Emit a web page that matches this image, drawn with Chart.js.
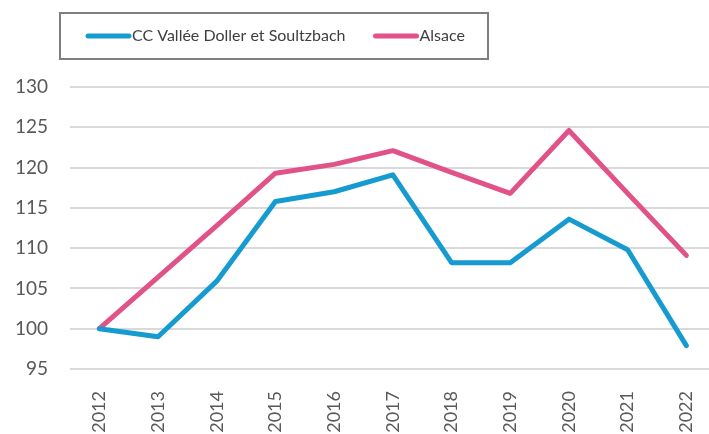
<!DOCTYPE html>
<html>
<head>
<meta charset="utf-8">
<script src="https://cdn.jsdelivr.net/npm/chart.js@4.4.0/dist/chart.umd.min.js"></script>
<style>
  html, body { margin: 0; padding: 0; background: #fff; overflow: hidden; }
  canvas { display: block; }
</style>
</head>
<body>
<canvas id="myChart" width="722" height="434"></canvas>
<script>
const years = ['2012', '2013', '2014', '2015', '2016', '2017', '2018', '2019', '2020', '2021', '2022'];
const valleeValues = [100, 99.0, 105.9, 115.8, 117.0, 119.1, 108.2, 108.2, 113.6, 109.8, 97.9];
const alsaceValues = [100, 106.4, 112.8, 119.3, 120.4, 122.1, 119.4, 116.8, 124.6, 116.8, 109.1];
const yTicks = [95, 100, 105, 110, 115, 120, 125, 130];

const FONT = 'Lato, "Open Sans", sans-serif';

// legend in a framed box, like the spreadsheet one
const boxLegend = {
    id: 'boxLegend',
    afterDraw(chart) {
        const c = chart.ctx;
        c.save();
        c.strokeStyle = '#7f7f7f';
        c.lineWidth = 2;
        c.strokeRect(60, 13, 428, 46);
        c.font = '16px ' + FONT;
        c.textBaseline = 'middle';
        c.fillStyle = '#404040';
        let x = 88;
        const y = 36;
        chart.data.datasets.forEach(ds => {
            c.strokeStyle = ds.borderColor;
            c.lineWidth = 5;
            c.lineCap = 'round';
            c.beginPath();
            c.moveTo(x, y);
            c.lineTo(x + 41, y);
            c.stroke();
            c.fillText(ds.label, x + 44, y);
            x += 44 + c.measureText(ds.label).width + 30;
        });
        c.restore();
    }
};

const ctx = document.getElementById('myChart').getContext('2d');
const myChart = new Chart(ctx, {
    type: 'line',
    data: {
        labels: years,
        datasets: [{
            label: 'CC Vallée Doller et Soultzbach',
            data: valleeValues,
            borderColor: 'rgb(21, 155, 208)',
            borderWidth: 5,
            pointRadius: 0,
            tension: 0,
            borderCapStyle: 'round',
            borderJoinStyle: 'round'
        }, {
            label: 'Alsace',
            data: alsaceValues,
            borderColor: 'rgb(225, 83, 136)',
            borderWidth: 5,
            pointRadius: 0,
            tension: 0,
            borderCapStyle: 'round',
            borderJoinStyle: 'round'
        }]
    },
    options: {
        responsive: false,
        animation: false,
        layout: { padding: { top: 87, right: 1, left: 0, bottom: 0 } },
        plugins: {
            legend: { display: false },
            tooltip: { enabled: false }
        },
        scales: {
            x: {
                offset: true,
                grid: { display: false },
                border: { display: false },
                ticks: {
                    color: '#595959',
                    font: { family: FONT, size: 18 },
                    minRotation: 90,
                    maxRotation: 90,
                    padding: 14
                },
                afterFit(scale) { scale.height = 65; }
            },
            y: {
                min: 95,
                max: 130,
                afterBuildTicks(scale) { scale.ticks = yTicks.map(v => ({ value: v })); },
                grid: { color: '#d9d9d9', lineWidth: 2, drawTicks: false },
                border: { display: false },
                ticks: {
                    color: '#595959',
                    font: { family: FONT, size: 19 },
                    padding: 22
                },
                afterFit(scale) { scale.width = 70; }
            }
        }
    },
    plugins: [boxLegend]
});
</script>
</body>
</html>
